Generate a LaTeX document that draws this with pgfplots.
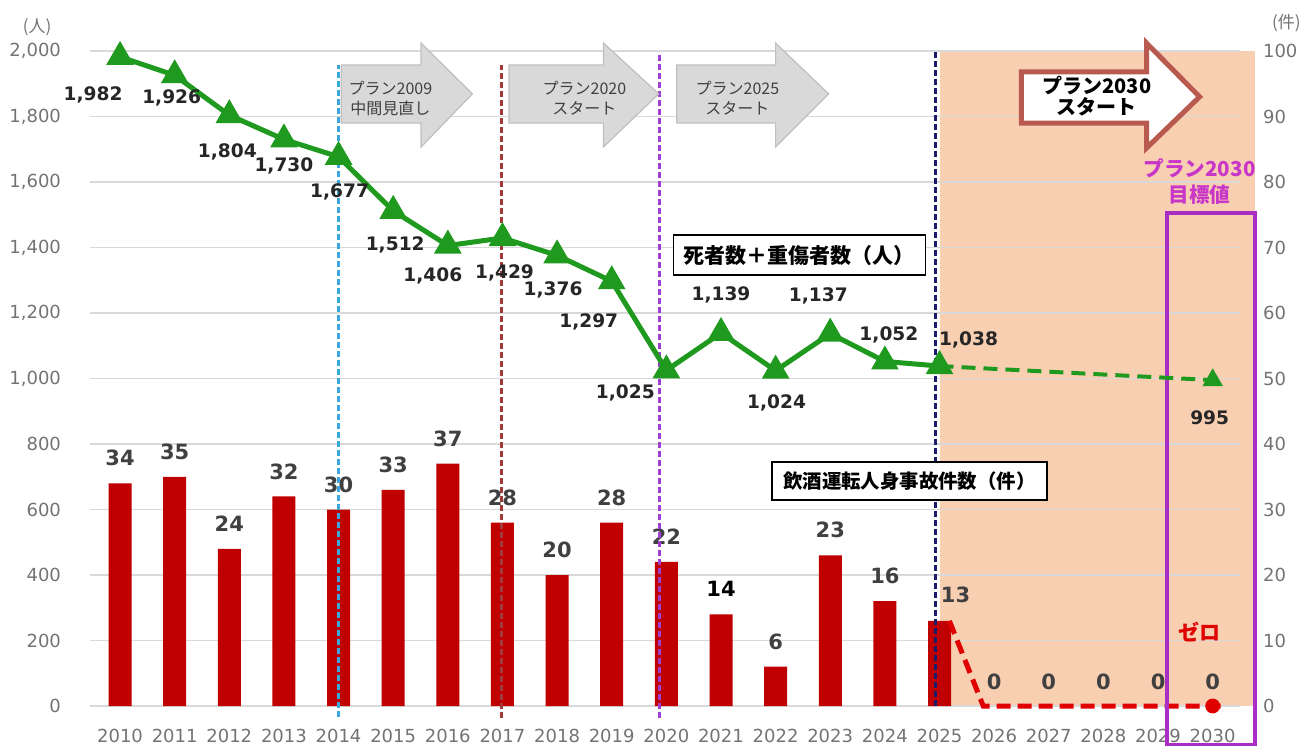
\documentclass[border=0pt]{standalone}
\usepackage{fontspec}
\setmainfont{DejaVu Sans}
\newfontfamily\cjk{Noto Sans CJK JP}
\usepackage{pgfplots}
\pgfplotsset{compat=1.18}

\definecolor{gridgray}{HTML}{D9D9D9}
\definecolor{tickgray}{HTML}{737373}
\definecolor{barred}{HTML}{C00000}
\definecolor{zerored}{HTML}{E00000}
\definecolor{linegreen}{HTML}{1F9A1F}
\definecolor{orangebg}{HTML}{F9CFB2}
\definecolor{arrowfill}{HTML}{D9D9D9}
\definecolor{arrowedge}{HTML}{BFBFBF}
\definecolor{arrowred}{HTML}{B85A50}
\definecolor{magbox}{HTML}{A82EC4}
\definecolor{magtext}{HTML}{C837C8}
\definecolor{vblue}{HTML}{3AA8DF}
\definecolor{vred}{HTML}{A33A3A}
\definecolor{vpurple}{HTML}{A040D0}
\definecolor{vnavy}{HTML}{1B1B6B}
\definecolor{lbldark}{HTML}{262626}
\definecolor{barlbl}{HTML}{404040}

\newcommand{\lbl}{\fontsize{9.3}{10}\selectfont\bfseries}
\newcommand{\blbl}{\fontsize{10.5}{12}\selectfont\bfseries}

\pgfplotsset{
  base/.style={
    width=575pt, height=327.5pt, scale only axis,
    at={(45pt,19.5pt)}, anchor=south west,
    xmin=2009.45, xmax=2030.5,
    clip=false,
    axis line style={draw=none},
    major tick length=0pt,
    /pgf/number format/assume math mode=true,
    tick label style={font=\fontsize{9}{10}\selectfont, text=tickgray},
  },
}

\begin{document}
\begin{tikzpicture}
\path[use as bounding box] (0,0) rectangle (654.5pt,372.5pt);

% orange background for the plan 2030 period
\begin{axis}[base, ymin=0, ymax=2000, hide axis]
\fill[orangebg] (axis cs:2025.0,0) rectangle (axis cs:2030.77,2000);
\end{axis}

% accidents (right axis, bars)
\begin{axis}[base, ymin=0, ymax=100,
  ytick={0,10,...,100}, yticklabel pos=right,
  yticklabel style={xshift=8pt},
  xtick={2010,...,2030},
  x tick label style={/pgf/number format/1000 sep={}, yshift=-8pt},
  ymajorgrids, grid style={gridgray, line width=0.8pt},
]
\addplot[ybar, bar width=11.5pt, fill=barred, draw=none] coordinates {
  (2010,34) (2011,35) (2012,24) (2013,32) (2014,30) (2015,33) (2016,37) (2017,28)
  (2018,20) (2019,28) (2020,22) (2021,14) (2022,6) (2023,23) (2024,16) (2025,13)
};
\addplot[zerored, line width=2.5pt, dash pattern=on 7pt off 3.5pt] coordinates {
  (2025.18,13) (2025.8,0) (2030.25,0)
};
\addplot[only marks, mark=*, mark size=3.5pt, zerored] coordinates {(2030,0)};

\begin{scope}[every node/.style={font=\blbl, text=barlbl, yshift=12.5pt}]
\node at (axis cs:2010,34) {34};
\node at (axis cs:2011,35) {35};
\node at (axis cs:2012,24) {24};
\node at (axis cs:2013,32) {32};
\node at (axis cs:2014,30) {30};
\node at (axis cs:2015,33) {33};
\node at (axis cs:2016,37) {37};
\node at (axis cs:2017,28) {28};
\node at (axis cs:2018,20) {20};
\node at (axis cs:2019,28) {28};
\node at (axis cs:2020,22) {22};
\node[text=black] at (axis cs:2021,14) {14};
\node at (axis cs:2022,6) {6};
\node at (axis cs:2023,23) {23};
\node at (axis cs:2024,16) {16};
\node[xshift=8pt, yshift=0.5pt] at (axis cs:2025,13) {13};
\node[yshift=-0.5pt] at (axis cs:2026,0) {0};
\node[yshift=-0.5pt] at (axis cs:2027,0) {0};
\node[yshift=-0.5pt] at (axis cs:2028,0) {0};
\node[yshift=-0.5pt] at (axis cs:2029,0) {0};
\node[yshift=-0.5pt] at (axis cs:2030,0) {0};
\end{scope}
\node[font=\cjk\fontsize{10.5}{12}\selectfont\bfseries, text=zerored] at (axis cs:2029.76,11.3) {ゼロ};
\end{axis}

% casualties (left axis, line) and annotations
\begin{axis}[base, ymin=0, ymax=2000,
  ytick={0,200,...,2000}, xtick=\empty,
  yticklabel style={xshift=-11pt},
]
% plan boundaries
\draw[vblue, line width=1.5pt, dash pattern=on 3pt off 1.5pt] (axis cs:2014.0,-35) -- (axis cs:2014.0,1957);
\draw[vred, line width=1.5pt, dash pattern=on 3pt off 1.5pt] (axis cs:2016.99,-37) -- (axis cs:2016.99,1957);
\draw[vpurple, line width=1.5pt, dash pattern=on 3pt off 1.5pt] (axis cs:2019.88,-37) -- (axis cs:2019.88,1988);
\draw[vnavy, line width=1.5pt, dash pattern=on 3pt off 1.5pt] (axis cs:2024.93,0) -- (axis cs:2024.93,2003);

% block arrows
\filldraw[fill=arrowfill, draw=arrowedge, line width=0.6pt]
  (axis cs:2014.05,1780) -- (axis cs:2014.05,1957) -- (axis cs:2015.51,1957) -- (axis cs:2015.51,2024)
  -- (axis cs:2016.45,1869) -- (axis cs:2015.51,1707) -- (axis cs:2015.51,1780) -- cycle;
\filldraw[fill=arrowfill, draw=arrowedge, line width=0.6pt]
  (axis cs:2017.12,1780) -- (axis cs:2017.12,1957) -- (axis cs:2018.85,1957) -- (axis cs:2018.85,2024)
  -- (axis cs:2019.86,1869) -- (axis cs:2018.85,1707) -- (axis cs:2018.85,1780) -- cycle;
\filldraw[fill=arrowfill, draw=arrowedge, line width=0.6pt]
  (axis cs:2020.19,1780) -- (axis cs:2020.19,1957) -- (axis cs:2022.0,1957) -- (axis cs:2022.0,2024)
  -- (axis cs:2022.97,1869) -- (axis cs:2022.0,1707) -- (axis cs:2022.0,1780) -- cycle;
\begin{scope}[every node/.style={font=\cjk\fontsize{8}{10}\selectfont, text=barlbl, align=center}]
\node at (axis cs:2014.95,1856) {プラン2009\\中間見直し};
\node at (axis cs:2018.5,1856) {プラン2020\\スタート};
\node at (axis cs:2021.3,1856) {プラン2025\\スタート};
\end{scope}
\filldraw[fill=white, draw=arrowred, line width=2.5pt, line join=miter]
  (axis cs:2026.5,1780) -- (axis cs:2026.5,1936) -- (axis cs:2028.79,1936) -- (axis cs:2028.79,2024)
  -- (axis cs:2029.76,1860) -- (axis cs:2028.79,1704) -- (axis cs:2028.79,1780) -- cycle;
\node[font=\cjk\fontsize{10}{10.5}\selectfont\bfseries, align=center] at (axis cs:2027.88,1862) {プラン2030\\スタート};

% target box
\draw[magbox, line width=2pt] (axis cs:2029.16,-119) rectangle (axis cs:2030.77,1505);
\node[font=\cjk\fontsize{10.3}{13}\selectfont\bfseries, text=magtext, align=center] at (axis cs:2029.76,1602) {プラン2030\\目標値};

% series name boxes
\node[draw=black, line width=0.6pt, fill=white, minimum width=126pt, minimum height=20pt,
  font=\cjk\fontsize{10.5}{12}\selectfont\bfseries] at (axis cs:2022.43,1377) {死者数＋重傷者数（人）};
\node[draw=black, line width=0.6pt, fill=white, minimum width=137.5pt, minimum height=19pt,
  font=\cjk\fontsize{9.7}{11}\selectfont\bfseries] at (axis cs:2024.45,687) {飲酒運転人身事故件数（件）};

% unit labels
\node[font=\cjk\fontsize{8.5}{9}\selectfont, text=tickgray] at (axis cs:2008.48,2073) {(人)};
\node[font=\cjk\fontsize{8.5}{9}\selectfont, text=tickgray] at (axis cs:2031.35,2085) {(件)};

% casualties line
\addplot[linegreen, line width=2.5pt, mark=triangle*, mark size=5.5pt,
  mark options={solid, fill=linegreen}] coordinates {
  (2010,1982) (2011,1926) (2012,1804) (2013,1730) (2014,1677) (2015,1512) (2016,1406) (2017,1429)
  (2018,1376) (2019,1297) (2020,1025) (2021,1139) (2022,1024) (2023,1137) (2024,1052) (2025,1038)
};
\addplot[linegreen, line width=2pt, dash pattern=on 7pt off 4pt] coordinates {(2025,1038) (2030,995)};
\addplot[only marks, mark=triangle*, mark size=5.5pt, linegreen] coordinates {(2030,995)};

\begin{scope}[every node/.style={font=\lbl, text=lbldark}]
\node[xshift=-13.5pt, yshift=-19pt] at (axis cs:2010,1982) {1,982};
\node[xshift=-1.5pt, yshift=-11.5pt] at (axis cs:2011,1926) {1,926};
\node[xshift=-1pt, yshift=-18.5pt] at (axis cs:2012,1804) {1,804};
\node[xshift=0pt, yshift=-13pt] at (axis cs:2013,1730) {1,730};
\node[xshift=0.5pt, yshift=-17.5pt] at (axis cs:2014,1677) {1,677};
\node[xshift=1pt, yshift=-17pt] at (axis cs:2015,1512) {1,512};
\node[xshift=-7.5pt, yshift=-15pt] at (axis cs:2016,1406) {1,406};
\node[xshift=1pt, yshift=-17.5pt] at (axis cs:2017,1429) {1,429};
\node[xshift=-2pt, yshift=-17.5pt] at (axis cs:2018,1376) {1,376};
\node[xshift=-11.5pt, yshift=-20.5pt] at (axis cs:2019,1297) {1,297};
\node[xshift=-20.5pt, yshift=-11.5pt] at (axis cs:2020,1025) {1,025};
\node[xshift=0pt, yshift=19pt] at (axis cs:2021,1139) {1,139};
\node[xshift=0.5pt, yshift=-16pt] at (axis cs:2022,1024) {1,024};
\node[xshift=-6pt, yshift=19pt] at (axis cs:2023,1137) {1,137};
\node[xshift=2pt, yshift=13.5pt] at (axis cs:2024,1052) {1,052};
\node[xshift=14.5pt, yshift=13pt] at (axis cs:2025,1038) {1,038};
\node[xshift=-1.5pt, yshift=-19pt] at (axis cs:2030,995) {995};
\end{scope}
\end{axis}
\end{tikzpicture}
\end{document}
